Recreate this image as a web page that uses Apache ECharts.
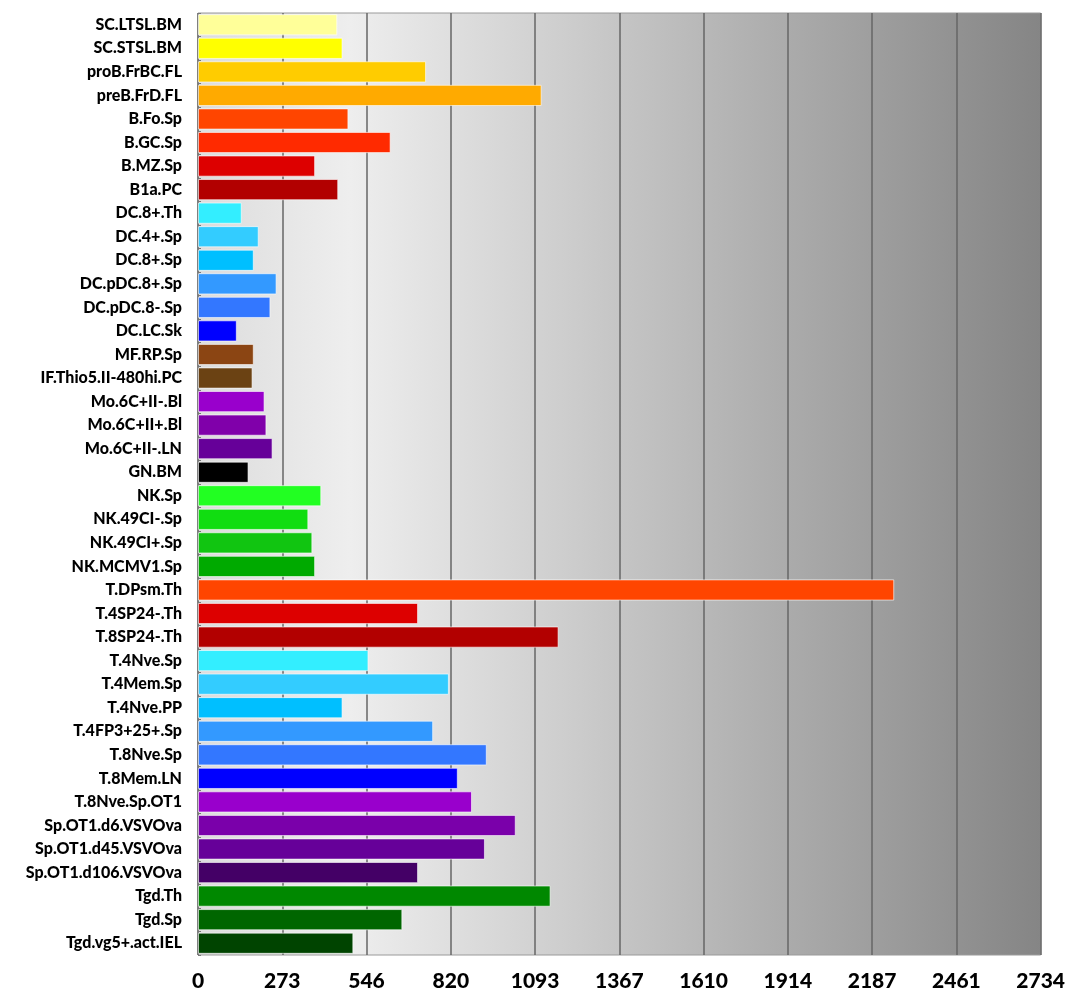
<!DOCTYPE html>
<html>
<head>
<meta charset="utf-8">
<title>Bar chart</title>
<script src="https://cdn.jsdelivr.net/npm/echarts@6/dist/echarts.min.js"></script>
<style>
  html, body { margin: 0; padding: 0; background: #fff; }
  #chart { width: 1068px; height: 1000px; }
</style>
</head>
<body>
<div id="chart"></div>
<script>
// categories, top to bottom
var categories = [
  'SC.LTSL.BM', 'SC.STSL.BM', 'proB.FrBC.FL', 'preB.FrD.FL', 'B.Fo.Sp', 'B.GC.Sp', 'B.MZ.Sp', 'B1a.PC',
  'DC.8+.Th', 'DC.4+.Sp', 'DC.8+.Sp', 'DC.pDC.8+.Sp', 'DC.pDC.8-.Sp', 'DC.LC.Sk',
  'MF.RP.Sp', 'IF.Thio5.II-480hi.PC', 'Mo.6C+II-.Bl', 'Mo.6C+II+.Bl', 'Mo.6C+II-.LN', 'GN.BM',
  'NK.Sp', 'NK.49CI-.Sp', 'NK.49CI+.Sp', 'NK.MCMV1.Sp',
  'T.DPsm.Th', 'T.4SP24-.Th', 'T.8SP24-.Th', 'T.4Nve.Sp', 'T.4Mem.Sp', 'T.4Nve.PP', 'T.4FP3+25+.Sp',
  'T.8Nve.Sp', 'T.8Mem.LN', 'T.8Nve.Sp.OT1', 'Sp.OT1.d6.VSVOva', 'Sp.OT1.d45.VSVOva', 'Sp.OT1.d106.VSVOva',
  'Tgd.Th', 'Tgd.Sp', 'Tgd.vg5+.act.IEL'
]

var values = [
  452, 469, 740, 1115, 488, 625, 380, 455,
  142, 197, 181, 255, 235, 126,
  181, 177, 216, 222, 242, 164,
  400, 358, 371, 380,
  2259, 714, 1170, 553, 814, 469, 763,
  937, 843, 889, 1031, 931, 714,
  1144, 663, 504
]

var barColors = [
  '#FFFF99', '#FFFF00', '#FFCC00', '#FFAA00', '#FF4500', '#FF2A00', '#DD0000', '#B20000',
  '#33EEFF', '#33CCFF', '#00BFFF', '#3399FF', '#3377FF', '#0000FF',
  '#8B4513', '#6B4213', '#9900CC', '#8000AA', '#660099', '#000000',
  '#22FF22', '#11DD11', '#11C511', '#00AA00',
  '#FF4500', '#DD0000', '#B20000', '#33EEFF', '#33CCFF', '#00BFFF', '#3399FF',
  '#3377FF', '#0000FF', '#9900CC', '#7A00AA', '#660099', '#440066',
  '#008800', '#006600', '#004400'
]

var tickLabels = ['0', '273', '546', '820', '1093', '1367', '1610', '1914', '2187', '2461', '2734']

var axisMax = 2734
var tickStep = axisMax / 10

var chart = echarts.init(document.getElementById('chart'))

chart.setOption({
  animation: false,
  grid: {
    left: 198,
    right: 24,
    top: 13,
    bottom: 45,
    show: true,
    borderColor: '#9a9a9a',
    borderWidth: 1,
    backgroundColor: {
      type: 'linear',
      x: 0, y: 0, x2: 1, y2: 0,
      colorStops: [
        { offset: 0, color: '#dcdcdc' },
        { offset: 0.18, color: '#eeeeee' },
        { offset: 0.4, color: '#d2d2d2' },
        { offset: 0.7, color: '#ababab' },
        { offset: 1, color: '#858585' }
      ]
    }
  },
  xAxis: {
    type: 'value',
    min: 0,
    max: axisMax,
    interval: tickStep,
    axisLine: { show: false },
    axisTick: { show: false },
    splitLine: { show: true, lineStyle: { color: '#666', width: 1.5 } },
    axisLabel: {
      margin: 16,
      color: '#000',
      fontFamily: 'Lato',
      fontWeight: 900,
      fontSize: 21,
      formatter: function (v) {
        return tickLabels[Math.round(v / tickStep)]
      }
    }
  },
  yAxis: {
    type: 'category',
    data: categories,
    inverse: true,
    axisLine: { show: false },
    axisTick: { show: true, inside: true, length: 3, lineStyle: { color: '#777' } },
    axisLabel: {
      margin: 16,
      color: '#000',
      fontFamily: 'Lato',
      fontWeight: 900,
      fontSize: 16
    }
  },
  series: [{
    type: 'bar',
    data: values.map(function (v, i) {
      return { value: v, itemStyle: { color: barColors[i] } }
    }),
    barCategoryGap: '10%',
    itemStyle: {
      borderColor: 'rgba(255,255,255,0.6)',
      borderWidth: 1
    }
  }]
})
</script>
</body>
</html>
